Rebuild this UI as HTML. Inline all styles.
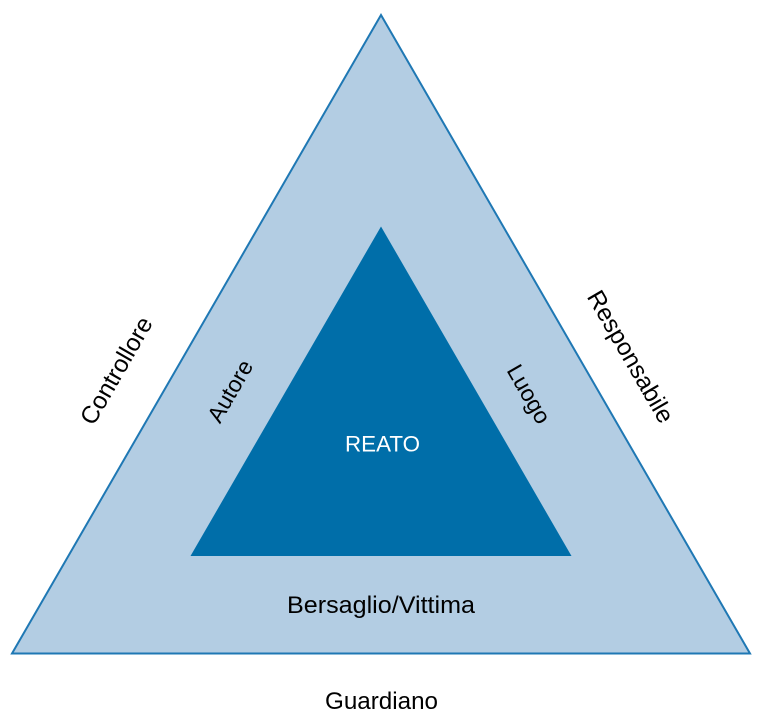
<!DOCTYPE html>
<html>
<head>
<meta charset="utf-8">
<style>
  html, body { margin:0; padding:0; background:#ffffff; }
  body { width:760px; height:716px; overflow:hidden; }
  svg { display:block; }
  text { font-family: "Liberation Sans", Arial, sans-serif; }
</style>
</head>
<body>
<svg width="760" height="716" viewBox="0 0 760 716" xmlns="http://www.w3.org/2000/svg">
  <polygon points="381,15 750,653.5 12,653.5" fill="#b3cde3" stroke="#1f78b4" stroke-width="2" stroke-linejoin="miter"/>
  <polygon points="381,226.5 571.5,556 190.5,556" fill="#006ea9"/>

  <text x="382.5" y="451.5" font-size="22" fill="#ffffff" text-anchor="middle" textLength="75" lengthAdjust="spacingAndGlyphs">REATO</text>
  <text x="381" y="613" font-size="24" fill="#000000" text-anchor="middle" textLength="188" lengthAdjust="spacingAndGlyphs">Bersaglio/Vittima</text>
  <text x="381.5" y="709" font-size="24" fill="#000000" text-anchor="middle" textLength="113" lengthAdjust="spacingAndGlyphs">Guardiano</text>

  <text x="0" y="0" font-size="24.5" fill="#000000" text-anchor="middle" dominant-baseline="central" transform="translate(117,371) rotate(-60)">Controllore</text>
  <text x="0" y="0" font-size="23" fill="#000000" text-anchor="middle" dominant-baseline="central" transform="translate(230,391) rotate(-60)">Autore</text>
  <text x="0" y="0" font-size="23" fill="#000000" text-anchor="middle" dominant-baseline="central" transform="translate(529,394) rotate(60)">Luogo</text>
  <text x="0" y="0" font-size="24.5" fill="#000000" text-anchor="middle" dominant-baseline="central" transform="translate(630,357) rotate(60)">Responsabile</text>
</svg>
</body>
</html>
